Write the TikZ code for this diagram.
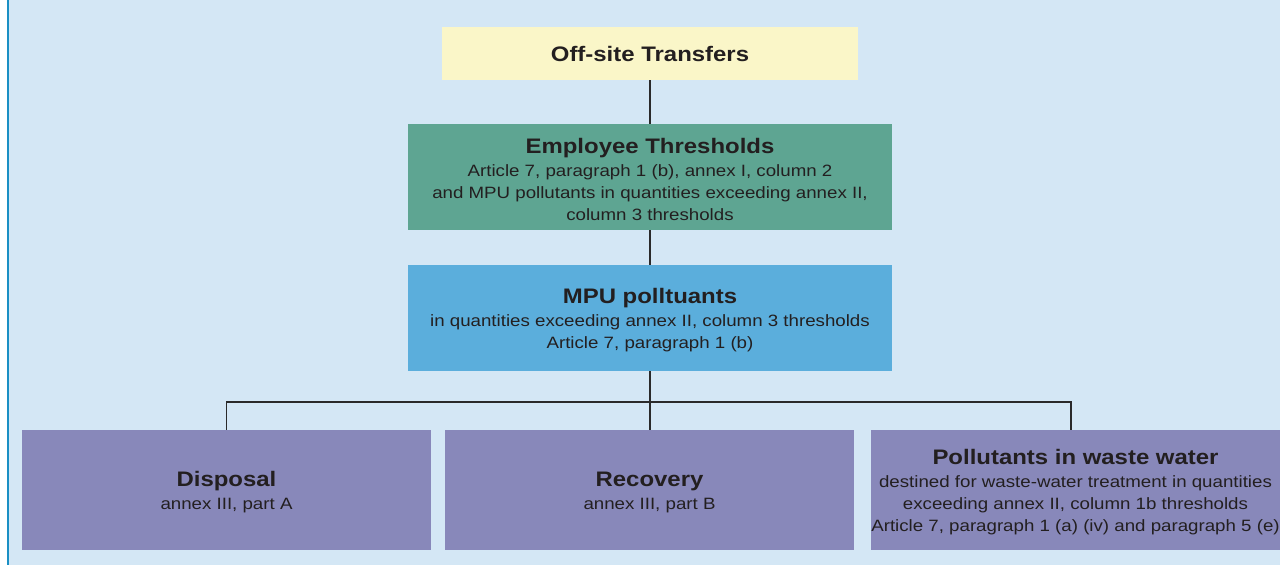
\documentclass[tikz,border=0pt]{standalone}
\usepackage{fontspec}
\setmainfont[FakeStretch=1.14]{Liberation Sans}
\definecolor{bgblue}{HTML}{D4E7F5}
\definecolor{edgeblue}{HTML}{1A8FC4}
\definecolor{offyellow}{HTML}{FAF6C8}
\definecolor{empgreen}{HTML}{5EA592}
\definecolor{mpublue}{HTML}{5BAEDC}
\definecolor{leafpurple}{HTML}{8888BA}
\definecolor{txt}{HTML}{231F20}
\definecolor{linec}{HTML}{2A2A2A}
\tikzset{
  box/.style={rectangle, inner sep=0pt, align=center, text=txt,
    font=\fontsize{16.4}{22}\selectfont},
  conn/.style={draw=linec, line width=1.3pt},
}
\newcommand{\ttl}[1]{{\fontsize{21}{24}\selectfont\bfseries #1}}
\newcommand{\ttlx}[1]{{\fontsize{21}{24}\selectfont\bfseries\rule{0pt}{19.5pt}#1}}
\begin{document}
\begin{tikzpicture}[x=1pt,y=-1pt]
\useasboundingbox (0,0) rectangle (1280,565);
\fill[white] (0,0) rectangle (1280,565);
\fill[bgblue] (8,0) rectangle (1280,565);
\draw[edgeblue, line width=1.6pt] (8,0) -- (8,565);

\node[box, fill=offyellow, minimum width=416pt, minimum height=53pt] (off) at (650,53.5)
  {\ttl{Off-site Transfers}};
\node[box, fill=empgreen, minimum width=484pt, minimum height=106pt] (emp) at (650,177)
  {\ttlx{Employee Thresholds}\\[1pt]Article 7, paragraph 1 (b), annex I, column 2\\and MPU pollutants in quantities exceeding annex II,\\column 3 thresholds};
\node[box, fill=mpublue, minimum width=484pt, minimum height=106pt] (mpu) at (650,318)
  {\ttlx{MPU polltuants}\\[1pt]in quantities exceeding annex II, column 3 thresholds\\Article 7, paragraph 1 (b)};
\node[box, fill=leafpurple, minimum width=409pt, minimum height=120pt] (disp) at (226.5,490)
  {\ttlx{Disposal}\\[1pt]annex III, part A};
\node[box, fill=leafpurple, minimum width=409pt, minimum height=120pt] (rec) at (649.5,490)
  {\ttlx{Recovery}\\[1pt]annex III, part B};
\node[box, fill=leafpurple, minimum width=409pt, minimum height=120pt] (pol) at (1075.5,490)
  {\ttlx{Pollutants in waste water}\\[1pt]destined for waste-water treatment in quantities\\exceeding annex II, column 1b thresholds\\Article 7, paragraph 1 (a) (iv) and paragraph 5 (e)};

\coordinate (jn) at (650,402);
\draw[conn] (off.south) -- (emp.north);
\draw[conn] (emp.south) -- (mpu.south |- mpu.north);
\draw[conn] (mpu.south) -- (rec.north -| mpu.south);
\draw[conn] (disp.north) |- (jn) -| ([xshift=-4.5pt]pol.north);
\end{tikzpicture}
\end{document}
